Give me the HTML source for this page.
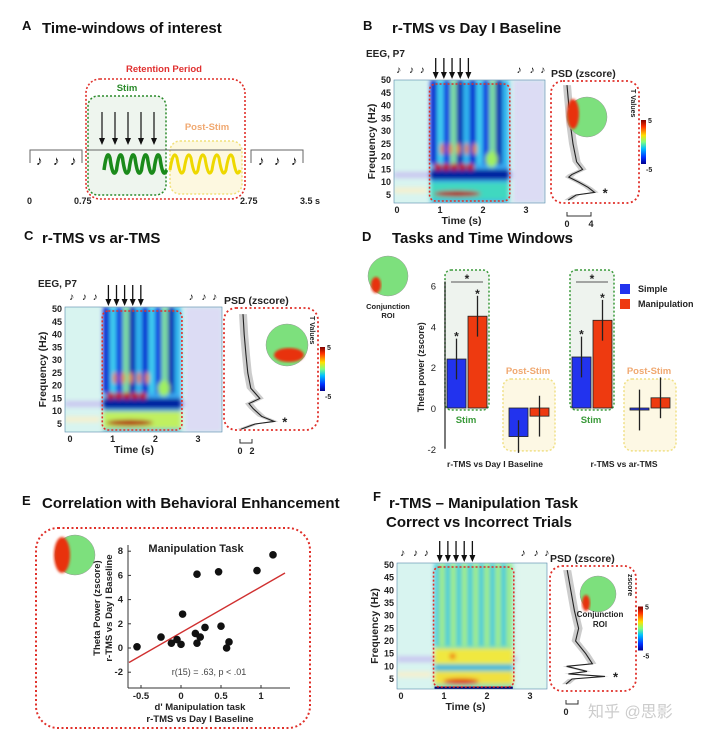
<!DOCTYPE html>
<html><head><meta charset="utf-8"><style>
body{margin:0;background:#fff;}
svg{display:block;font-family:"Liberation Sans",Arial,sans-serif;}
.t{font-weight:bold;font-size:15px;fill:#111}
.l{font-weight:bold;font-size:13px;fill:#111}
.s{font-weight:bold;font-size:9px;fill:#222}
</style></head><body>
<svg id="fig" width="720" height="743" viewBox="0 0 720 743" xmlns="http://www.w3.org/2000/svg">
<defs>
<filter id="bl" x="-20%" y="-20%" width="140%" height="140%"><feGaussianBlur stdDeviation="2.2"/></filter>
<filter id="bl2"><feGaussianBlur stdDeviation="1.2"/></filter>
<linearGradient id="jet" x1="0" y1="1" x2="0" y2="0">
<stop offset="0" stop-color="#00008f"/><stop offset="0.15" stop-color="#0030ff"/><stop offset="0.35" stop-color="#00c0ff"/><stop offset="0.5" stop-color="#7fff7f"/><stop offset="0.65" stop-color="#ffe000"/><stop offset="0.85" stop-color="#ff3000"/><stop offset="1" stop-color="#800000"/></linearGradient>
</defs>
<g id="root"></g>
</svg>
<script>
// ---- Panel D data ----
const dGroups = ['r-TMS vs Day I Baseline','r-TMS vs ar-TMS'];
const dSimpleStim = [2.4, 2.5];
const dManipStim = [4.5, 4.3];
const dSimplePost = [-1.4, -0.1];
const dManipPost = [-0.4, 0.5];
const dErrSimpleStim = [1.0, 1.0];
const dErrManipStim = [1.0, 1.0];
const dErrSimplePost = [0.8, 1.0];
const dErrManipPost = [1.0, 1.0];
const dTicks = [-2, 0, 2, 4, 6];
// ---- Panel E data ----
const eX = [-0.55,-0.25,-0.12,-0.05,0,0.02,0.18,0.2,0.2,0.24,0.3,0.47,0.5,0.57,0.6,0.95,1.15];
const eY = [0.1,0.9,0.4,0.7,0.3,2.8,1.2,0.4,6.1,0.9,1.7,6.3,1.8,0,0.5,6.4,7.7];
const eFitX = [-0.65, 1.3];
const eFitY = [-1.2, 6.2];
const eXTicks = [-0.5, 0, 0.5, 1];
const eYTicks = [-2, 0, 2, 4, 6, 8];
const freqTicks = [50,45,40,35,30,25,20,15,10,5];
const timeTicks = [0,1,2,3];

const NS='http://www.w3.org/2000/svg';
const root=document.getElementById('root');
function el(tag,attrs,parent,txt){const e=document.createElementNS(NS,tag);for(const k in attrs)e.setAttribute(k,attrs[k]);if(txt!==undefined)e.textContent=txt;(parent||root).appendChild(e);return e;}

const titles=[['A',22,30,'Time-windows of interest',42,33],['B',363,30,'r-TMS vs Day I Baseline',392,33],['C',24,240,'r-TMS vs ar-TMS',42,243],['D',362,241,'Tasks and Time Windows',392,243],['E',22,505,'Correlation with Behavioral Enhancement',42,508],['F',373,501,'r-TMS – Manipulation Task',389,508]];
titles.forEach(t=>{
 const a=el('text',{x:t[1],y:t[2],class:'l'},root,t[0]);
 
 
 const b=el('text',{x:t[4],y:t[5],class:'t'},root,t[3]);
 
 
});
const f2=el('text',{x:386,y:527,class:'t'},root,'Correct vs Incorrect Trials');



// ---- Panel A ----
(function(){
 const g=el('g',{});
 
 
 el('rect',{x:170,y:141,width:72,height:53,rx:10,fill:'#fdf8e0',stroke:'#f1e07a','stroke-width':1.5,'stroke-dasharray':'2,2'},g);
 el('rect',{x:88,y:96,width:78,height:99,rx:10,fill:'#eef5ee',stroke:'#2a8a2a','stroke-width':1.5,'stroke-dasharray':'2,2'},g);
 el('rect',{x:86,y:79,width:159,height:120,rx:14,fill:'none',stroke:'#e0302a','stroke-width':1.6,'stroke-dasharray':'2,2'},g);
 el('text',{x:164,y:72,'text-anchor':'middle',class:'s',style:'fill:#e03030;font-size:9.5px'},g,'Retention Period');
 el('text',{x:127,y:91,'text-anchor':'middle',class:'s',style:'fill:#2a8a2a;font-size:9.5px'},g,'Stim');
 el('text',{x:207,y:130,'text-anchor':'middle',class:'s',style:'fill:#f0a870;font-size:9.5px'},g,'Post-Stim');
 for(let i=0;i<5;i++){const x=102+i*13;el('line',{x1:x,y1:112,x2:x,y2:140,stroke:'#111','stroke-width':1.2},g);el('path',{d:`M${x-3},138 L${x+3},138 L${x},145 Z`,fill:'#111'},g);}
 el('line',{x1:86,y1:150,x2:241,y2:150,stroke:'#666','stroke-width':1},g);
 let p='M104,170';for(let i=0;i<5;i++){const x=104+i*12.5;p+=` Q${x+3},148 ${x+6},158 Q${x+9},180 ${x+12.5},170`;}
 el('path',{d:p,fill:'none',stroke:'#1a8a1a','stroke-width':3.5},g);
 p='M170,170';for(let i=0;i<5;i++){const x=170+i*14;p+=` Q${x+3.5},148 ${x+7},158 Q${x+10.5},180 ${x+14},170`;}
 el('path',{d:p,fill:'none',stroke:'#eed800','stroke-width':3},g);
 el('path',{d:'M30,163 L30,150 L82,150 L82,163',fill:'none',stroke:'#666'},g);
 el('path',{d:'M251,163 L251,150 L303,150 L303,163',fill:'none',stroke:'#666'},g);
 [[36,165],[53,165],[70,165],[258,165],[274,165],[291,165]].forEach(q=>el('text',{x:q[0],y:q[1],style:'font-size:13px'},g,'♪'));
 [['0',27],['0.75',74],['2.75',240],['3.5 s',300]].forEach(q=>el('text',{x:q[1],y:204,class:'s'},g,q[0]));
})();

function spectro(id,x0,x1,y0,y1,t0x,t3x,f50y,f5y,variant){
 const g=el('g',{});
 
 
 const tx=t=>t0x+(t3x-t0x)*t/3, fy=f=>f50y+(f5y-f50y)*(50-f)/45;
 const clip=el('clipPath',{id:'c'+id},g);el('rect',{x:x0,y:y0,width:x1-x0,height:y1-y0},clip);
 const gi=el('g',{'clip-path':`url(#c${id})`},g);
 el('rect',{x:x0,y:y0,width:x1-x0,height:y1-y0,fill:'#d8f4f0'},gi);
 const blur=el('g',{filter:'url(#bl)'},gi);
 el('rect',{x:x0,y:fy(14),width:x1-x0,height:6,fill:'#c9c8f0'},blur);
 el('rect',{x:tx(2.7),y:y0,width:x1-tx(2.7),height:y1-y0,fill:variant==='F'?'#e0f6ee':'#dcdcf4'},blur);
 el('rect',{x:x0,y:fy(8),width:tx(0.7)-x0,height:6,fill:'#f4f0d0'},blur);
 const sx=tx(0.78),ex=tx(2.6);
 const bs=el('g',{filter:'url(#bl)'},gi);
 if(variant==='F'){
  el('rect',{x:sx,y:y0,width:ex-sx,height:y1-y0,fill:'#78e0b0'},bs);
  for(let i=0;i<14;i++)el('rect',{x:sx+i*(ex-sx)/14,y:y0,width:4,height:fy(18)-y0,fill:i%2?'#a8f080':'#40c8e0'},bs);
  el('rect',{x:sx,y:fy(17),width:ex-sx,height:fy(11)-fy(17),fill:'#f0e840'},bs);
  el('rect',{x:sx,y:fy(10.5),width:ex-sx,height:5,fill:'#30b0e0'},bs);
  el('rect',{x:sx,y:fy(8),width:ex-sx,height:fy(3)-fy(8),fill:'#f0e040'},bs);
  el('ellipse',{cx:tx(1.4),cy:fy(4),rx:18,ry:3,fill:'#e02000'},bs);
  el('ellipse',{cx:tx(1.2),cy:fy(14),rx:3,ry:3,fill:'#f07000'},bs);
  el('rect',{x:sx,y:fy(2),width:ex-sx,height:y1-fy(2),fill:'#000070'},gi);
 } else {
  el('rect',{x:sx,y:y0,width:ex-sx,height:y1-y0,fill:'#3aa8f0'},bs);
  for(let i=0;i<12;i++){const c=['#0018d0','#40d0f0','#0030e0','#80e0a0','#0010b0','#30b8f0'][i%6];el('rect',{x:sx+i*(ex-sx)/12,y:y0,width:(ex-sx)/12,height:fy(17)-y0,fill:c},bs);}
  el('rect',{x:sx,y:fy(15),width:ex-sx,height:fy(11)-fy(15),fill:'#0020a0'},bs);
  el('rect',{x:sx,y:fy(10),width:ex-sx,height:fy(3)-fy(10),fill:variant==='C'?'#c0f060':'#40d8c0'},bs);
  for(let i=0;i<5;i++){el('ellipse',{cx:tx(0.95+i*0.19),cy:fy(16),rx:4,ry:3.5,fill:'#c01000'},bs);el('ellipse',{cx:tx(1.05+i*0.19),cy:fy(23),rx:2,ry:6,fill:'#f08000'},bs);}
  el('ellipse',{cx:tx(2.2),cy:fy(19),rx:6,ry:8,fill:'#a0f060'},bs);
  el('ellipse',{cx:tx(1.4),cy:fy(5.5),rx:(ex-sx)*0.3,ry:3,fill:'#b00000'},bs);
 }
 el('rect',{x:sx-1,y:y0+4,width:ex-sx+2,height:y1-y0-6,rx:6,fill:'none',stroke:'#e0302a','stroke-width':1.6,'stroke-dasharray':'2,2'},g);
 el('rect',{x:x0,y:y0,width:x1-x0,height:y1-y0,fill:'none',stroke:'#58a','stroke-width':0.6},g);
 freqTicks.forEach(f=>el('text',{x:x0-3,y:fy(f)+3,'text-anchor':'end',class:'s'},g,f));
 timeTicks.forEach(t=>el('text',{x:tx(t),y:y1+10,'text-anchor':'middle',class:'s'},g,t));
 el('text',{x:tx(1.5),y:y1+21,'text-anchor':'middle',class:'s',style:'font-size:10.5px'},g,'Time (s)');
 el('text',{x:0,y:0,'text-anchor':'middle',class:'s',style:'font-size:10.5px',transform:`translate(${x0-19},${(y0+y1)/2}) rotate(-90)`},g,'Frequency (Hz)');
 for(let i=0;i<5;i++){const x=tx(0.9+i*0.19);el('line',{x1:x,y1:y0-22,x2:x,y2:y0-6,stroke:'#111','stroke-width':1.3},g);el('path',{d:`M${x-3},${y0-8} L${x+3},${y0-8} L${x},${y0-1} Z`,fill:'#111'},g);}
 [0.05,0.35,0.6].forEach(t=>el('text',{x:tx(t)-3,y:y0-7,style:'font-size:10px'},g,'♪'));
 [2.85,3.15,3.4].forEach(t=>el('text',{x:tx(t)-3,y:y0-7,style:'font-size:10px'},g,'♪'));
 return {fy};
}
function psd(id,bx0,bx1,by0,by1,fy,pts,head,ticks,cbLabel){
 const g=el('g',{});
 
 
 el('text',{x:bx0,y:by0-4,class:'s',style:'font-size:10.5px'},g,'PSD (zscore)');
 el('rect',{x:bx0,y:by0,width:bx1-bx0,height:by1-by0,rx:12,fill:'none',stroke:'#e0302a','stroke-width':1.8,'stroke-dasharray':'2,2.5'},g);
 const px=bx0+16;
 let d='',sh1=[],sh2=[];
 pts.forEach((p,i)=>{const x=px+p[1]*6,y=fy(p[0]);d+=(i?'L':'M')+x+','+y;sh1.push((x-4)+','+y);sh2.unshift((x+4)+','+y);});
 el('polygon',{points:sh1.concat(sh2).join(' '),fill:'#ccc'},g);
 el('path',{d,fill:'none',stroke:'#222','stroke-width':1.1},g);
 el('text',{x:px+pts[pts.length-3][1]*6+8,y:fy(6)+5,class:'s',style:'font-size:13px'},g,'*');
 el('path',{d:`M${px},${by1+9} L${px},${by1+13} L${px+ticks[1]*6},${by1+13} L${px+ticks[1]*6},${by1+9}`,fill:'none',stroke:'#333'},g);
 el('text',{x:px,y:by1+24,'text-anchor':'middle',class:'s'},g,'0');
 if(id!=='f')el('text',{x:px+ticks[1]*6,y:by1+24,'text-anchor':'middle',class:'s'},g,ticks[1]);
 const hc=el('g',{},g);
 
 
 el('circle',{cx:head[0],cy:head[1],r:head[2],fill:'#7de07d',stroke:'#999','stroke-width':0.5},hc);
 el('ellipse',{cx:head[0]+head[3],cy:head[1]+head[4],rx:head[5],ry:head[6],fill:'#e83010',filter:'url(#bl2)'},hc);
 const cbx=bx1+2;
 el('rect',{x:cbx,y:(by0+by1)/2-22,width:5,height:44,fill:'url(#jet)'},g);
 el('text',{x:cbx+7,y:(by0+by1)/2-19,class:'s',style:'font-size:7px'},g,'5');
 el('text',{x:cbx+5,y:(by0+by1)/2+30,class:'s',style:'font-size:7px'},g,'-5');
 el('text',{x:0,y:0,class:'s',style:'font-size:7px',transform:`translate(${bx1-8},${by0+8}) rotate(90)`},g,cbLabel);
}
const psdB=[[48,0],[40,0.3],[32,0.6],[25,1],[18,1.6],[15,2.6],[13,0.8],[12,0.3],[10,2],[8,3.5],[6,4.6],[5,1.5],[3,0.2]];
const psdC=[[48,0.5],[40,0.7],[32,1],[25,1.3],[19,1.8],[15,3.3],[13,1.5],[11,2.2],[8,3.6],[6,5.7],[5,2.5],[3,0.2]];
const psdF=[[48,0.2],[40,0.8],[32,1.4],[25,2.1],[20,1.6],[15,3.3],[11,4.4],[10,0.1],[8,3.5],[7,0.4],[6,6.5],[5,1],[3,0]];

const sB=spectro('b',394,545,80,203,397,526,80,195,'B');
el('text',{x:366,y:57,class:'s',style:'font-size:10px'},root,'EEG, P7');
psd('b',551,639,81,203,sB.fy,psdB,[587,117,20,-14,-3,6,15],[0,4],'T Values');
const sC=spectro('c',65,222,307,432,70,198,309,424,'C');
el('text',{x:38,y:287,class:'s',style:'font-size:10px'},root,'EEG, P7');
psd('c',224,318,308,430,sC.fy,psdC,[287,345,21,2,10,15,7],[0,2],'T Values');
const sF=spectro('f',397,547,563,689,401,530,565,679,'F');
psd('f',550,636,566,691,sF.fy,psdF,[598,594,18,-12,9,4,8],[0,2],'zscore');
el('text',{x:600,y:617,'text-anchor':'middle',class:'s',style:'font-size:8px'},root,'Conjunction');
el('text',{x:600,y:627,'text-anchor':'middle',class:'s',style:'font-size:8px'},root,'ROI');
el('text',{x:588,y:717,style:'font-size:16px;fill:#ccc;font-family:"Liberation Sans","Noto Sans CJK SC",sans-serif'},root,'知乎 @思影');

// ---- Panel D ----
(function(){
 const g=el('g',{});
 
 
 const y0=408,ppu=20.4,Y=v=>y0-v*ppu;
 const axX=445;
 el('circle',{cx:388,cy:276,r:20,fill:'#7de07d',stroke:'#999','stroke-width':0.5},g);
 el('ellipse',{cx:376,cy:285,rx:5,ry:8,fill:'#e83010',filter:'url(#bl2)'},g);
 el('text',{x:388,y:309,'text-anchor':'middle',class:'s',style:'font-size:7.5px'},g,'Conjunction');
 el('text',{x:388,y:318,'text-anchor':'middle',class:'s',style:'font-size:7.5px'},g,'ROI');
 const starts=[447,572],postStarts=[509,630];
 const bw=19;
 dGroups.forEach((name,i)=>{
  const bx=starts[i],px=postStarts[i];
  el('rect',{x:bx-2,y:270,width:bw*2+6,height:Y(0)-270+2,rx:6,fill:'#eef3ee',stroke:'#3a9a3a','stroke-width':1.5,'stroke-dasharray':'2,2'},g);
  el('rect',{x:px-6,y:379,width:bw*2+14,height:Y(-2.1)-379,rx:8,fill:'#fdf8e4',stroke:'#f0e088','stroke-width':1.5,'stroke-dasharray':'2,2'},g);
  el('text',{x:px+bw,y:374,'text-anchor':'middle',class:'s',style:'fill:#f0a870;font-size:9.5px'},g,'Post-Stim');
  el('text',{x:bx+bw,y:423,'text-anchor':'middle',class:'s',style:'fill:#3a9a3a;font-size:9.5px'},g,'Stim');
  const bars=[[bx,dSimpleStim[i],dErrSimpleStim[i],'#2233ee','simple-stim'],[bx+bw+2,dManipStim[i],dErrManipStim[i],'#ee3a10','manipulation-stim'],[px,dSimplePost[i],dErrSimplePost[i],'#2233ee','simple-post'],[px+bw+2,dManipPost[i],dErrManipPost[i],'#ee3a10','manipulation-post']];
  bars.forEach(b=>{
   const r=el('rect',{x:b[0],y:Math.min(Y(0),Y(b[1])),width:bw,height:Math.max(2,Math.abs(Y(b[1])-Y(0))),fill:b[3],stroke:'#222','stroke-width':0.8},g);
   
   
   el('line',{x1:b[0]+bw/2,y1:Y(b[1]+b[2]),x2:b[0]+bw/2,y2:Y(b[1]-b[2]),stroke:'#222','stroke-width':1.3},g);
  });
  el('text',{x:bx+bw/2,y:Y(dSimpleStim[i]+dErrSimpleStim[i])+2,'text-anchor':'middle',class:'s',style:'font-size:12px'},g,'*');
  el('text',{x:bx+bw*1.5+2,y:Y(dManipStim[i]+dErrManipStim[i])+2,'text-anchor':'middle',class:'s',style:'font-size:12px'},g,'*');
  el('line',{x1:bx+4,y1:282,x2:bx+bw*2-2,y2:282,stroke:'#555'},g);
  el('text',{x:bx+bw+1,y:283,'text-anchor':'middle',class:'s',style:'font-size:12px'},g,'*');
  el('text',{x:[495,624][i],y:467,'text-anchor':'middle',class:'s',style:'font-size:8.5px'},g,name);
 });
 el('line',{x1:axX,y1:Y(6.2),x2:axX,y2:Y(-2),stroke:'#222','stroke-width':1.2},g);
 dTicks.forEach(t=>el('text',{x:axX-9,y:Y(t)+4,'text-anchor':'end',class:'s',style:'font-size:9.5px;font-weight:normal'},g,t));
 el('text',{x:0,y:0,'text-anchor':'middle',class:'s',style:'font-size:9px',transform:`translate(${424},${Y(2)}) rotate(-90)`},g,'Theta power (zscore)');
 el('rect',{x:620,y:284,width:10,height:10,fill:'#2233ee'},g);
 el('text',{x:638,y:292,class:'s',style:'font-size:9px'},g,'Simple');
 el('rect',{x:620,y:299,width:10,height:10,fill:'#ee3a10'},g);
 el('text',{x:638,y:307,class:'s',style:'font-size:9px'},g,'Manipulation');
})();

// ---- Panel E ----
(function(){
 const g=el('g',{});
 
 
 el('rect',{x:36,y:528,width:274,height:200,rx:22,fill:'none',stroke:'#e0302a','stroke-width':2,'stroke-dasharray':'2,2.5'},g);
 el('circle',{cx:75,cy:555,r:20,fill:'#7de07d',stroke:'#999','stroke-width':0.5},g);
 el('ellipse',{cx:62,cy:555,rx:8,ry:18,fill:'#e83010',filter:'url(#bl2)'},g);
 const X=v=>181+v*80, Y=v=>648-v*12.1;
 const L=128,R=290,T=545,B=688;
 el('line',{x1:L,y1:T,x2:L,y2:B,stroke:'#333'},g);
 el('line',{x1:L,y1:B,x2:R,y2:B,stroke:'#333'},g);
 eXTicks.forEach(t=>{el('line',{x1:X(t),y1:B,x2:X(t),y2:B-3,stroke:'#333'},g);el('text',{x:X(t),y:B+11,'text-anchor':'middle',class:'s',style:'font-size:9.5px'},g,t);});
 eYTicks.forEach(t=>{el('line',{x1:L,y1:Y(t),x2:L+3,y2:Y(t),stroke:'#333'},g);el('text',{x:L-5,y:Y(t)+3,'text-anchor':'end',class:'s',style:'font-size:9.5px'},g,t);});
 const ln=el('line',{x1:X(eFitX[0]),y1:Y(eFitY[0]),x2:X(eFitX[1]),y2:Y(eFitY[1]),stroke:'#d03030','stroke-width':1.4},g);
 
 
 eX.forEach((x,i)=>{const c=el('circle',{cx:X(x),cy:Y(eY[i]),r:3.8,fill:'#111'},g);
  
  });
 el('text',{x:196,y:552,'text-anchor':'middle',class:'s',style:'font-size:11px'},g,'Manipulation Task');
 el('text',{x:209,y:675,'text-anchor':'middle',style:'font-size:9px;fill:#444'},g,'r(15) = .63, p < .01');
 el('text',{x:200,y:710,'text-anchor':'middle',class:'s',style:'font-size:9.5px'},g,"d' Manipulation task");
 el('text',{x:200,y:722,'text-anchor':'middle',class:'s',style:'font-size:9.5px'},g,'r-TMS vs Day I Baseline');
 el('text',{x:0,y:0,'text-anchor':'middle',class:'s',style:'font-size:9.5px',transform:`translate(100,${Y(3.3)}) rotate(-90)`},g,'Theta Power  (zscore)');
 el('text',{x:0,y:0,'text-anchor':'middle',class:'s',style:'font-size:9.5px',transform:`translate(112,${Y(3.3)}) rotate(-90)`},g,'r-TMS vs Day I Baseline');
})();
</script>
</body></html>
